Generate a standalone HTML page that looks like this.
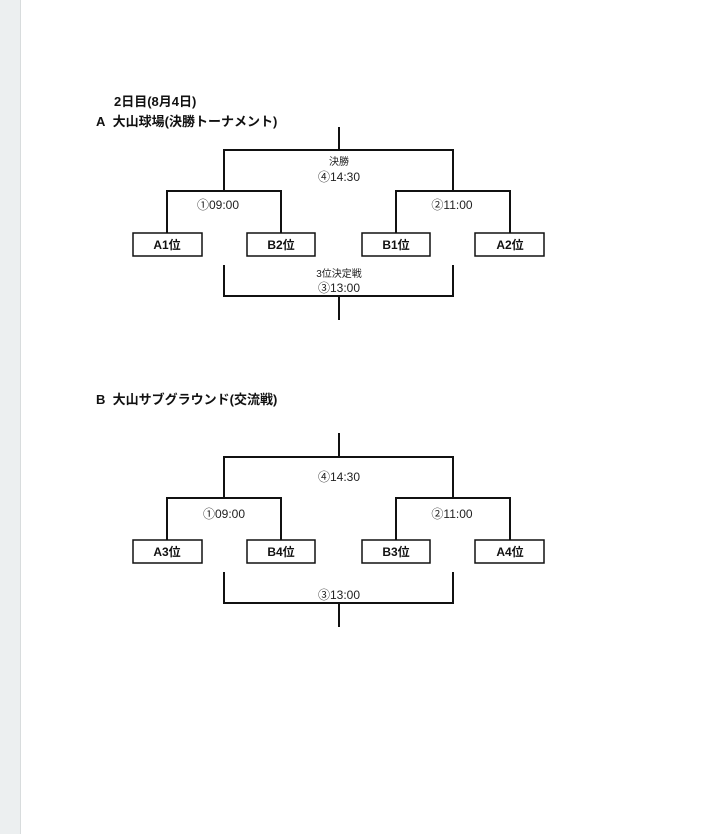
<!DOCTYPE html>
<html><head><meta charset="utf-8"><style>
body{margin:0;width:704px;height:834px;background:#fff;overflow:hidden;position:relative;font-family:"Liberation Sans","Noto Sans CJK JP",sans-serif}
.side{position:absolute;left:0;top:0;width:20px;height:834px;background:#eceff0;border-right:1px solid #d8dcdd}
.h{position:absolute;font-weight:bold;font-size:13px;color:#111;white-space:nowrap}
</style></head><body>
<div class="side"></div>
<div class="h" style="left:114px;top:91px">2日目(8月4日)</div>
<div class="h" style="left:96px;top:111px">A&nbsp; 大山球場(決勝トーナメント)</div>
<div class="h" style="left:96px;top:389px">B&nbsp; 大山サブグラウンド(交流戦)</div>
<svg width="704" height="834" style="position:absolute;left:0;top:0" font-family="Liberation Sans, Noto Sans CJK JP, sans-serif">
<g id="a" stroke="#111" stroke-width="2" fill="none">
<path d="M339 127V150M224 191V150H453V191M167 233V191H281V233M396 233V191H510V233M224 265V296H453V265M339 296V320"/>
<rect x="133" y="233" width="69" height="23" stroke-width="1.5"/>
<rect x="247" y="233" width="68" height="23" stroke-width="1.5"/>
<rect x="362" y="233" width="68" height="23" stroke-width="1.5"/>
<rect x="475" y="233" width="69" height="23" stroke-width="1.5"/>
</g>
<g font-size="12" fill="#222" text-anchor="middle">
<text x="339" y="165" font-size="10">決勝</text>
<text x="339" y="181">④14:30</text>
<text x="218" y="209">①09:00</text>
<text x="452" y="209">②11:00</text>
<text x="339" y="277" font-size="10">3位決定戦</text>
<text x="339" y="292">③13:00</text>
<g font-weight="bold" font-size="12" fill="#111">
<text x="167" y="249">A1位</text><text x="281" y="249">B2位</text><text x="396" y="249">B1位</text><text x="510" y="249">A2位</text>
</g>
</g>
<g transform="translate(0,307)">
<g stroke="#111" stroke-width="2" fill="none">
<path d="M339 126V150M224 191V150H453V191M167 233V191H281V233M396 233V191H510V233M224 265V296H453V265M339 296V320"/>
<rect x="133" y="233" width="69" height="23" stroke-width="1.5"/>
<rect x="247" y="233" width="68" height="23" stroke-width="1.5"/>
<rect x="362" y="233" width="68" height="23" stroke-width="1.5"/>
<rect x="475" y="233" width="69" height="23" stroke-width="1.5"/>
</g>
<g font-size="12" fill="#222" text-anchor="middle">
<text x="339" y="174">④14:30</text>
<text x="224" y="211">①09:00</text>
<text x="452" y="211">②11:00</text>
<text x="339" y="292">③13:00</text>
<g font-weight="bold" font-size="12" fill="#111">
<text x="167" y="249">A3位</text><text x="281" y="249">B4位</text><text x="396" y="249">B3位</text><text x="510" y="249">A4位</text>
</g>
</g>
</g>
</svg>
</body></html>
